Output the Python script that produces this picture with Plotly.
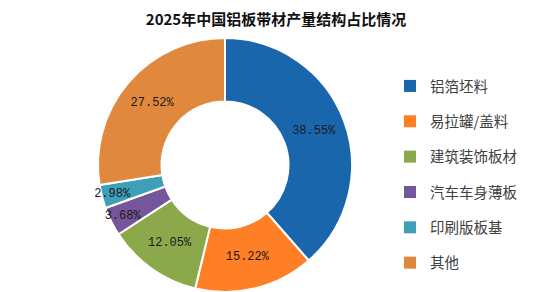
import plotly.graph_objects as go

title = "2025年中国铝板带材产量结构占比情况"
labels = ["铝箔坯料", "易拉罐/盖料", "建筑装饰板材", "汽车车身薄板", "印刷版板基", "其他"]
values = [38.55, 15.22, 12.05, 3.68, 2.98, 27.52]
colors = ["#1A66AD", "#FF7F27", "#8BA84B", "#76569B", "#3E9FB8", "#E0893E"]

fig = go.Figure()
fig.add_trace(go.Pie(
    labels=labels, values=values, sort=False, direction="clockwise", rotation=0,
    hole=0.5,
    marker=dict(colors=colors, line=dict(color="white", width=2)),
    texttemplate="%{value:.2f}%", textposition="inside",
    insidetextorientation="horizontal",
    textfont=dict(family="Liberation Mono, DejaVu Sans Mono, monospace", size=12, color="#1a1a1a"),
    domain=dict(x=[98/552, 352/552], y=[0.0, 1 - 38/292]),
    showlegend=False,
))
for lab, col in zip(labels, colors):
    fig.add_trace(go.Scatter(
        x=[None], y=[None], mode="markers", name=lab, legendgroup=lab,
        marker=dict(symbol="square", size=7, color=col),
    ))

fig.update_layout(
    width=552, height=292,
    margin=dict(l=0, r=0, t=0, b=0),
    paper_bgcolor="white", plot_bgcolor="white",
    title=dict(text="<b>" + title + "</b>", x=0.5, xanchor="center", y=1 - 20/292, yanchor="middle",
               font=dict(family="Noto Sans CJK SC", size=15, color="#111111")),
    xaxis=dict(visible=False), yaxis=dict(visible=False),
    uniformtext=dict(minsize=12, mode="show"),
    legend=dict(x=390/552, y=1 - 70/292, xanchor="left", yanchor="top",
                tracegroupgap=13.5, itemsizing="constant",
                font=dict(family="Noto Sans CJK SC", size=14.5, color="#404040")),
)
fig.write_html("out.html")
